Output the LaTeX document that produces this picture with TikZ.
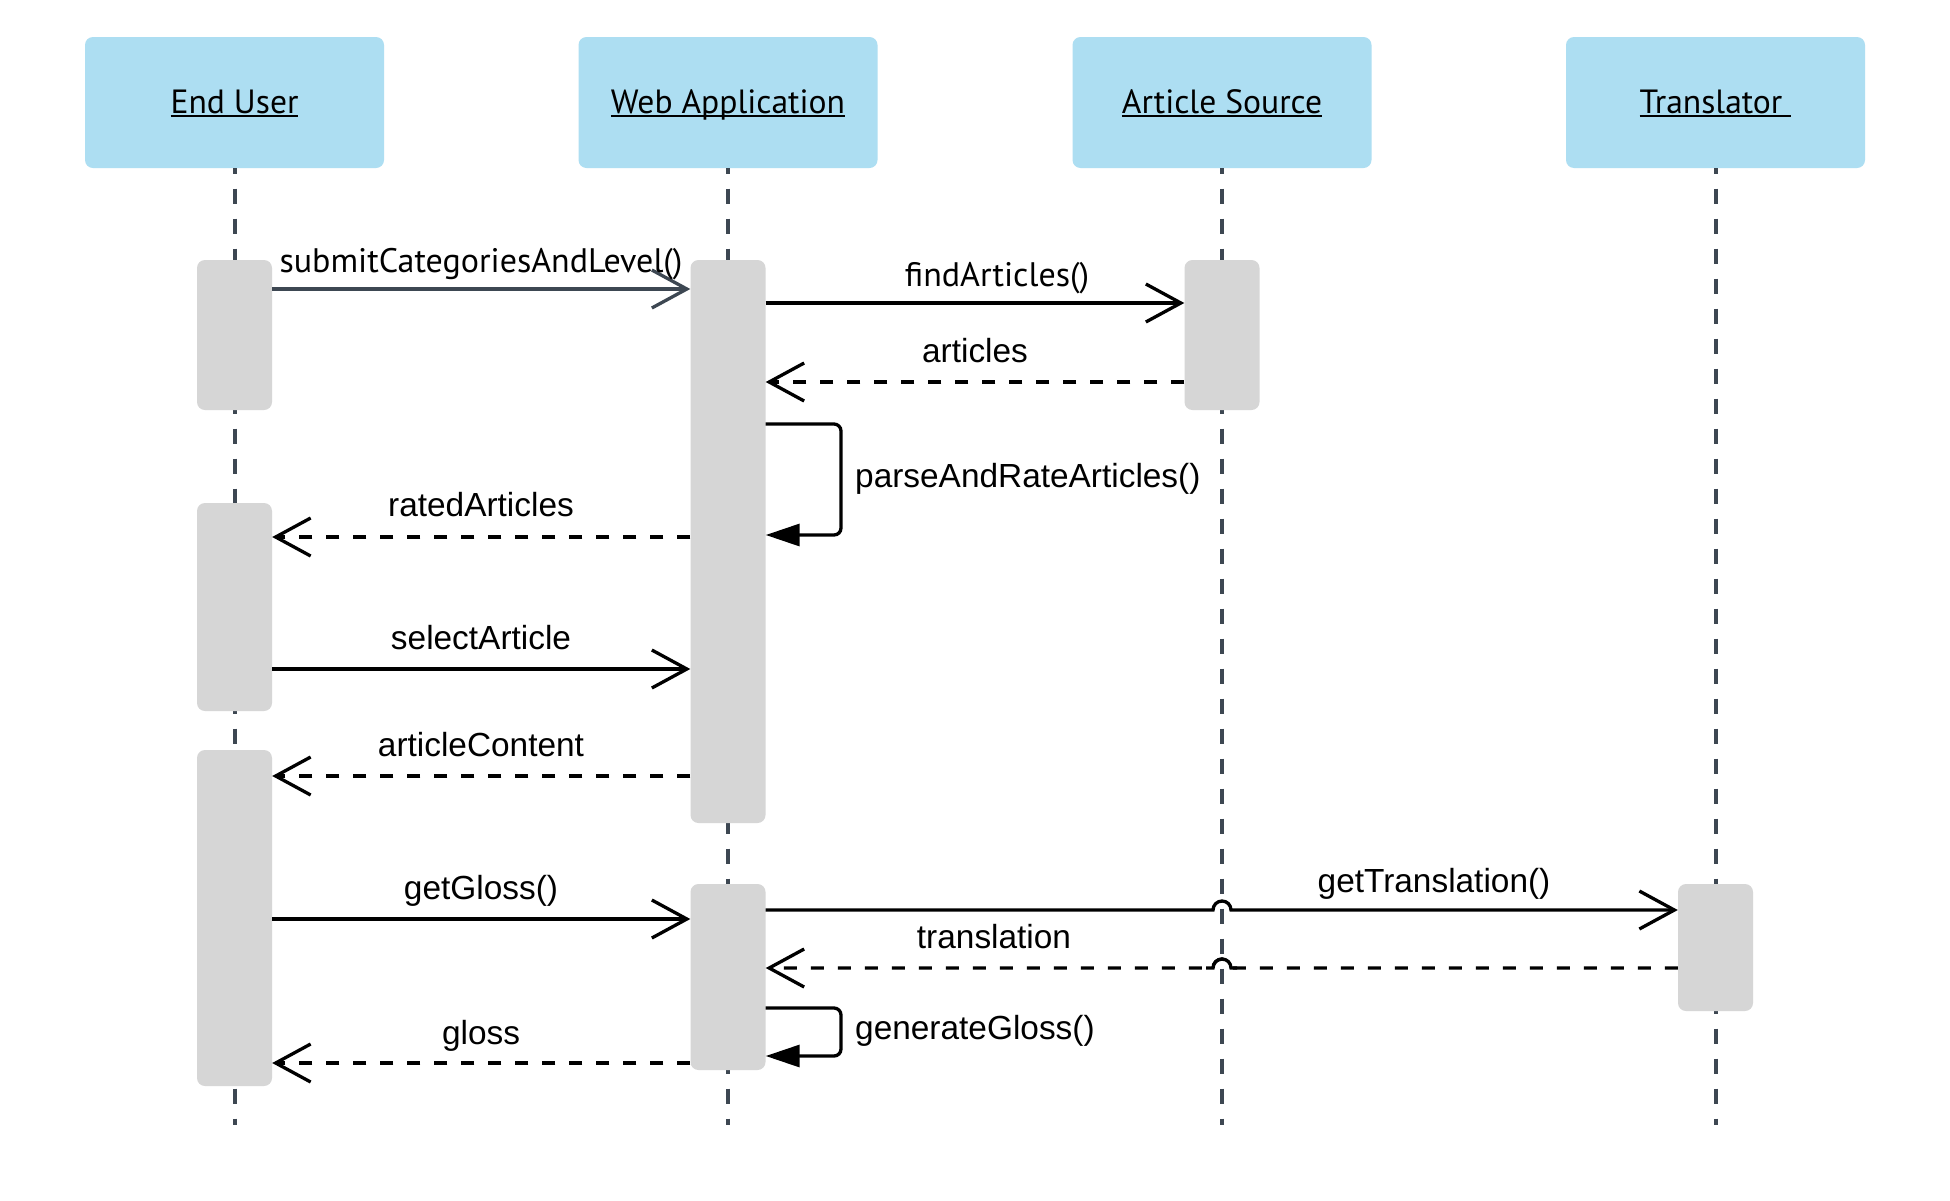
\documentclass[tikz,border=0pt]{standalone}
\usepackage{fontspec}
\setmainfont{Liberation Sans}
\newfontfamily\ptsans{PT Sans}
\usetikzlibrary{arrows.meta}
\definecolor{headblue}{HTML}{ADDEF2}
\definecolor{actgray}{HTML}{D6D6D6}
\definecolor{lifecol}{HTML}{3D4752}
\newcommand\hul[1]{\setbox0\hbox{#1}\rlap{\rule[-3.6pt]{\wd0}{1.8pt}}\box0}
\begin{document}
\begin{tikzpicture}[x=1pt,y=-1pt,
 head/.style={fill=headblue, rounded corners=8pt, minimum width=299pt, minimum height=131pt, inner sep=0pt, text height=21pt, text depth=0pt, font=\ptsans\fontsize{33.6}{40}\selectfont},
 actbar/.style={fill=actgray, rounded corners=8pt, minimum width=75pt, inner sep=0pt},
 lifeline/.style={draw=lifecol, line width=4pt, dash pattern=on 15pt off 15pt, dash phase=9.7pt},
 msg/.style={draw=black, line width=3.3pt, -{Straight Barb[length=35pt,width=38pt]}},
 reply/.style={msg, dash pattern=on 13pt off 14pt},
 selfmsg/.style={draw=black, line width=3.3pt, rounded corners=7pt, -{Triangle[length=34pt,width=22pt]}},
 hump/.style={draw=black, line width=3.3pt},
 lbl/.style={anchor=base, inner sep=0pt, font=\fontsize{33.4}{40}\selectfont},
 ptlbl/.style={lbl, font=\ptsans\fontsize{34}{40}\selectfont},
]
\path[use as bounding box, fill=white] (0,0) rectangle (1950,1200);

% heads
\node[head] (eu) at (234.5,102.5) {\hul{End User}};
\node[head] (wa) at (728,102.5) {\hul{Web Application}};
\node[head] (as) at (1222,102.5) {\hul{Article Source}};
\node[head] (tr) at (1715.5,102.5) {\hul{Translator\ }};

% lifeline ends
\coordinate (euend) at (234.5,1125);
\coordinate (waend) at (728,1125);
\coordinate (asend) at (1222,1125);
\coordinate (trend) at (1715.5,1125);
\draw[lifeline] (eu.south) -- (euend);
\draw[lifeline] (wa.south) -- (waend);
\draw[lifeline] (as.south) -- (asend);
\draw[lifeline] (tr.south) -- (trend);

% activation bars
\node[actbar, minimum height=150pt] (eu1) at (234.5,335) {};
\node[actbar, minimum height=208pt] (eu2) at (234.5,607) {};
\node[actbar, minimum height=336pt] (eu3) at (234.5,918) {};
\node[actbar, minimum height=563pt] (wa1) at (728,541.5) {};
\node[actbar, minimum height=186pt] (wa2) at (728,977) {};
\node[actbar, minimum height=150pt] (as1) at (1222,335) {};
\node[actbar, minimum height=127pt] (tr1) at (1715.5,947.5) {};

% messages
\draw[msg, draw=lifecol] (eu1.east |- 0,289) -- (wa1.west |- 0,289);
\draw[msg] (wa1.east |- 0,303) -- (as1.west |- 0,303);
\draw[reply] (as1.west |- 0,382) -- (wa1.east |- 0,382);
\draw[selfmsg] (wa1.east |- 0,424) -- (841,424) -- (841,535) -- (wa1.east |- 0,535);
\draw[reply] (wa1.west |- 0,537) -- (eu2.east |- 0,537);
\draw[msg] (eu2.east |- 0,669) -- (wa1.west |- 0,669);
\draw[reply] (wa1.west |- 0,776) -- (eu3.east |- 0,776);
\draw[msg] (eu3.east |- 0,919) -- (wa2.west |- 0,919);
\draw[msg] (wa2.east |- 0,910) -- (1213,910) arc[start angle=180,end angle=360,radius=9] -- (tr1.west |- 0,910);
\draw[reply] (tr1.west |- 0,968) -- (1231,968) arc[start angle=360,end angle=180,radius=9] -- (wa2.east |- 0,968);
\draw[hump] (1237,968) -- (1231,968) arc[start angle=360,end angle=180,radius=9] -- (1206,968);
\draw[selfmsg] (wa2.east |- 0,1008) -- (841,1008) -- (841,1056) -- (wa2.east |- 0,1056);
\draw[reply] (wa2.west |- 0,1063) -- (eu3.east |- 0,1063);

% labels
\node[ptlbl] (t1) at (481,272) {submitCategoriesAndLevel()};
\node[ptlbl] (t2) at (997,286) {findArticles()};
\node[lbl] (t3) at (975,362) {articles};
\node[lbl, anchor=base west] (t4) at (855,487) {parseAndRateArticles()};
\node[lbl] (t5) at (481,516) {ratedArticles};
\node[lbl] (t6) at (481,649) {selectArticle};
\node[lbl] (t7) at (481,756) {articleContent};
\node[lbl] (t8) at (481,899) {getGloss()};
\node[lbl] (t9) at (1434,892) {getTranslation()};
\node[lbl] (t10) at (994,948) {translation};
\node[lbl, anchor=base west] (t11) at (855,1039) {generateGloss()};
\node[lbl] (t12) at (481,1044) {gloss};
\end{tikzpicture}
\end{document}
